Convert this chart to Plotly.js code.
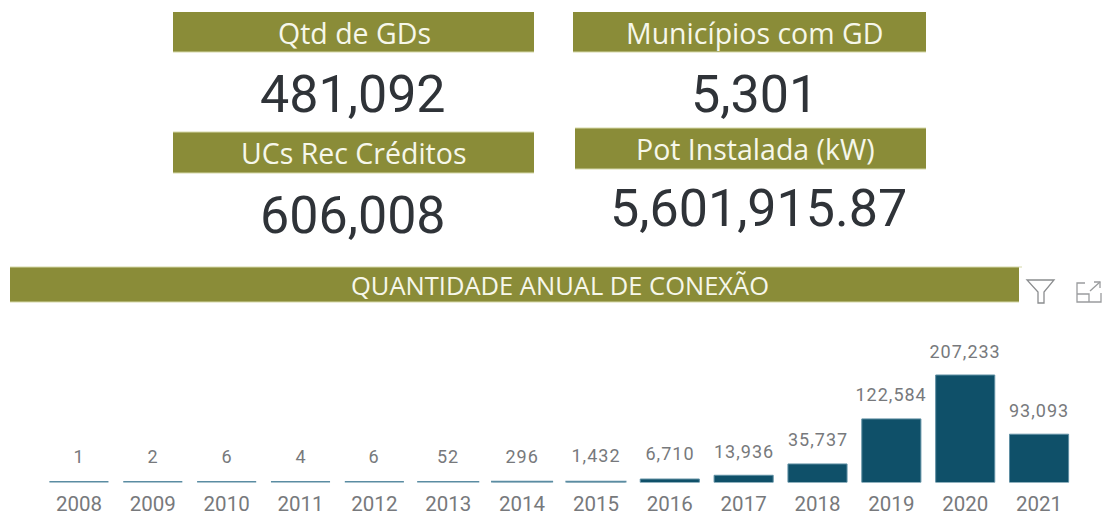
<!DOCTYPE html>
<html>
<head>
<meta charset="utf-8">
<script src="https://cdn.plot.ly/plotly-3.0.1.min.js"></script>
<style>
html,body{margin:0;padding:0;background:#fff;overflow:hidden}
#chart{width:1112px;height:516px}
</style>
</head>
<body>
<div id="chart"></div>
<script>
const years = ["2008","2009","2010","2011","2012","2013","2014","2015","2016","2017","2018","2019","2020","2021"];
const connections = [1,2,6,4,6,52,296,1432,6710,13936,35737,122584,207233,93093];
const connectionLabels = ["1","2","6","4","6","52","296","1,432","6,710","13,936","35,737","122,584","207,233","93,093"];
const chartTitle = "QUANTIDADE ANUAL DE CONEXÃO";
const kpiHeaders = ["Qtd de GDs","Municípios com GD","UCs Rec Créditos","Pot Instalada (kW)"];
const kpiValues = ["481,092","5,301","606,008","5,601,915.87"];

const W = 1112, H = 516;
const OLIVE = "#8a8c38", EDGE = "#d5d8a8", BAR = "#0f5069", SMALL = "#5a8ca2", GREY = "#77797c", DARK = "#2f3338";
const px = x => x / W, py = y => 1 - y / H;

const band = (x0, y0, x1, y1) => ({type:"rect", xref:"paper", yref:"paper", x0:px(x0), x1:px(x1), y0:py(y0), y1:py(y1),
  fillcolor:OLIVE, line:{width:0}, layer:"below"});
const edge = (x0, y, x1) => ({type:"line", xref:"paper", yref:"paper", x0:px(x0), x1:px(x1), y0:py(y), y1:py(y),
  line:{color:EDGE, width:1}, layer:"below"});
const path = (pts, close, color) => ({type:"path", xref:"paper", yref:"paper",
  path:"M" + pts.map(p => px(p[0]) + "," + py(p[1])).join(" L") + (close ? " Z" : ""),
  line:{color:color, width:1.3}, fillcolor:"rgba(0,0,0,0)"});

const shapes = [
  band(173,12,534,52), band(573,12,926,52), band(173,132,534,173), band(575,128,926,169), band(10,267,1019,302),
  edge(173,52,534), edge(573,52,926), edge(173,173,534), edge(173,132,534), edge(575,169,926), edge(575,128,926),
  edge(10,267,1022), edge(10,302,1019),
  path([[1027,280],[1054,280],[1044,292],[1044,303],[1038,303],[1038,292]], true, "#8b8d8f"),
  path([[1085,283],[1077,283],[1077,302],[1101,302],[1101,293]], false, "#9a9c9e"),
  path([[1077,294],[1089,294],[1089,302]], false, "#9a9c9e"),
  path([[1090,291],[1100,282]], false, "#9a9c9e"),
  path([[1094,282],[1100,282],[1100,288]], false, "#9a9c9e")
];

const text = (t, x, y, size, color, family) => ({text:t, xref:"paper", yref:"paper", x:px(x), y:py(y),
  xanchor:"center", yanchor:"middle", showarrow:false, font:{family:family, size:size, color:color}});
const HEAD = "'Open Sans', sans-serif", NUM = "Roboto, sans-serif";
const annotations = [
  text(kpiHeaders[0], 354, 33, 28.5, "#f6f7ea", HEAD),
  text(kpiHeaders[1], 754, 33, 28.5, "#f6f7ea", HEAD),
  text(kpiHeaders[2], 353, 153, 28.5, "#f6f7ea", HEAD),
  text(kpiHeaders[3], 755, 149, 28.5, "#f6f7ea", HEAD),
  text(kpiValues[0], 353, 94, 52, DARK, NUM),
  text(kpiValues[1], 754, 94, 52, DARK, NUM),
  text(kpiValues[2], 353, 215, 52, DARK, NUM),
  text(kpiValues[3], 758, 208, 52, DARK, NUM),
  text(chartTitle, 560, 285, 25.5, "#f6f7ea", HEAD)
].concat(years.map((y, i) => ({
  text: connectionLabels[i], xref:"x", yref:"y", x:i, y:connections[i], yshift:connections[i] < 10000 ? 26 : 24,
  xanchor:"center", yanchor:"middle", showarrow:false,
  font:{family:NUM, size:18, color:GREY}
})));

const trace = {
  type:"bar", x:years, y:connections, width:0.8,
  marker:{
    color:BAR,
    line:{
      color:connections.map(v => v < 2000 ? SMALL : "#5f8fa3"),
      width:connections.map(v => v < 1000 ? 3 : (v < 2000 ? 2 : 1))
    }
  },
  hoverinfo:"x+y"
};

const layout = {
  width:W, height:H, margin:{l:0,r:0,t:0,b:0}, paper_bgcolor:"#fff", plot_bgcolor:"#fff",
  showlegend:false, shapes:shapes, annotations:annotations, bargap:0.2,
  xaxis:{type:"category", domain:[px(42),px(1076)], showgrid:false, zeroline:false, showline:false,
    ticks:"outside", ticklen:3, tickcolor:"rgba(255,255,255,0)",
    tickfont:{family:NUM, size:20.5, color:GREY}, automargin:false, fixedrange:true, range:[-0.5,13.5]},
  yaxis:{visible:false, domain:[py(482.5),py(330)], range:[0,294000], fixedrange:true, showgrid:false, zeroline:false}
};
Plotly.newPlot("chart",[trace],layout,{displayModeBar:false,responsive:false}).then(() => {
  // data labels are set wider in the original: track out the numeric annotations
  document.querySelectorAll("#chart .annotation").forEach(g => {
    const i = +g.getAttribute("data-index");
    if (i >= 9) g.querySelector("text").style.letterSpacing = "1px";
  });
});
</script>
</body>
</html>
